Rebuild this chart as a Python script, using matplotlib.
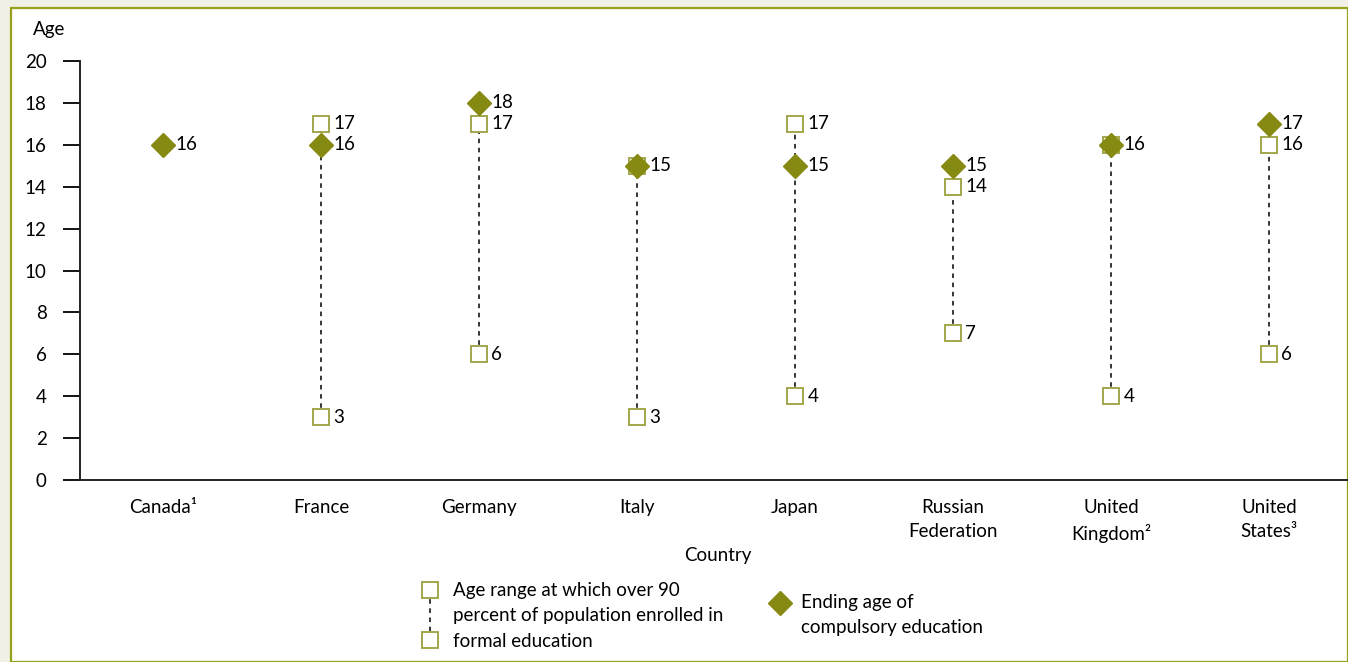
import matplotlib
matplotlib.use('Agg')
import matplotlib.pyplot as plt
from matplotlib.patches import Rectangle
from matplotlib.lines import Line2D

# Daten
countries = ['Canada¹', 'France', 'Germany', 'Italy', 'Japan',
             'Russian\nFederation', 'United\nKingdom²', 'United\nStates³']
range_low = [None, 3, 6, 3, 4, 7, 4, 6]
range_high = [None, 17, 17, 15, 17, 14, 16, 16]
compulsory_end = [16, 16, 18, 15, 15, 15, 16, 17]
y_ticks = [0, 2, 4, 6, 8, 10, 12, 14, 16, 18, 20]

olive = '#878a12'
olive_light = '#a2a64a'
fs = 13.5

plt.rcParams['font.family'] = ['Lato', 'DejaVu Sans']
plt.rcParams['font.size'] = fs

W, H = 1348, 662
fig = plt.figure(figsize=(W / 100, H / 100), dpi=100)
fig.patch.set_facecolor('#f1f0e5')
# weisser Rahmen mit Olivlinie
fig.patches.append(Rectangle((11 / W, 0), 1 - 11 / W, 1 - 8 / H, transform=fig.transFigure,
                             facecolor='white', edgecolor='#96a01a', linewidth=1.6, zorder=-10))

ax = fig.add_axes([80 / W, 182 / H, 1 - 80 / W, 419 / H])
ax.set_facecolor('none')
ax.set_zorder(1)
x = list(range(len(countries)))

for i in x:
    lo, hi = range_low[i], range_high[i]
    if lo is not None:
        ax.plot([i, i], [lo, hi], color='black', linestyle=(0, (3, 3)), linewidth=1.1, zorder=1)
        ax.plot([i, i], [lo, hi], linestyle='none', marker='s', markersize=11,
                markerfacecolor='white', markeredgecolor=olive_light, markeredgewidth=1.4, zorder=2)
    ax.plot(i, compulsory_end[i], linestyle='none', marker='D', markersize=12,
            markerfacecolor=olive, markeredgecolor=olive, zorder=3)

# Werte beschriften
for i in x:
    vals = [compulsory_end[i]]
    if range_low[i] is not None:
        vals += [range_low[i], range_high[i]]
    for v in set(vals):
        ax.annotate(str(v), (i, v), xytext=(9, 0), textcoords='offset points',
                    ha='left', va='center', fontsize=fs)

ax.set_xlim(-0.525, 7.5)
ax.set_ylim(0, 20)
ax.set_yticks(y_ticks)
ax.set_xticks(x)
ax.set_xticklabels(countries, fontsize=fs, linespacing=1.5)
ax.tick_params(axis='x', length=0, pad=14)
ax.tick_params(axis='y', length=12, width=1.3, direction='out', pad=12, labelsize=fs)
for s in ['top', 'right']:
    ax.spines[s].set_visible(False)
for s in ['left', 'bottom']:
    ax.spines[s].set_linewidth(1.4)
    ax.spines[s].set_color('#222222')

fig.text(33 / W, 1 - 30 / H, 'Age', fontsize=fs, va='center', ha='left')
fig.text(718 / W, 1 - 555 / H, 'Country', fontsize=fs, va='center', ha='center')

# Legende
lx = 430 / W
y1, y2 = 1 - 590 / H, 1 - 640 / H
fig.add_artist(Line2D([lx, lx], [y1, y2], transform=fig.transFigure, color='black',
                      linestyle=(0, (3, 3)), linewidth=1.1))
fig.add_artist(Line2D([lx, lx], [y1, y2], transform=fig.transFigure, linestyle='none',
                      marker='s', markersize=11, markerfacecolor='white',
                      markeredgecolor=olive_light, markeredgewidth=1.4))
fig.text(453 / W, 1 - 616 / H,
         'Age range at which over 90\npercent of population enrolled in\nformal education',
         fontsize=fs, va='center', ha='left', linespacing=1.6)
fig.add_artist(Line2D([780 / W], [1 - 603 / H], transform=fig.transFigure, linestyle='none',
                      marker='D', markersize=12, markerfacecolor=olive, markeredgecolor=olive))
fig.text(801 / W, 1 - 615 / H, 'Ending age of\ncompulsory education',
         fontsize=fs, va='center', ha='left', linespacing=1.6)

fig.savefig('out.png', dpi=100, facecolor=fig.get_facecolor())
